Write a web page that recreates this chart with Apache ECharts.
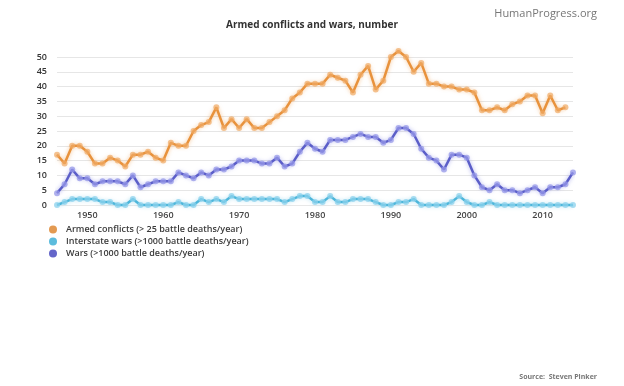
<!DOCTYPE html>
<html>
<head>
<meta charset="utf-8">
<script src="https://cdn.jsdelivr.net/npm/echarts@6/dist/echarts.min.js"></script>
<style>
html,body{margin:0;padding:0;background:#fff;}
#c{width:624px;height:386px;}
</style>
</head>
<body>
<div id="c"></div>
<script>
var years = ['1946','1947','1948','1949','1950','1951','1952','1953','1954','1955','1956','1957','1958','1959',
  '1960','1961','1962','1963','1964','1965','1966','1967','1968','1969',
  '1970','1971','1972','1973','1974','1975','1976','1977','1978','1979',
  '1980','1981','1982','1983','1984','1985','1986','1987','1988','1989',
  '1990','1991','1992','1993','1994','1995','1996','1997','1998','1999',
  '2000','2001','2002','2003','2004','2005','2006','2007','2008','2009',
  '2010','2011','2012','2013','2014'];

var armedConflicts = [17,14,20,20,18,14,14,16,15,13,17,17,18,16,
  15,21,20,20,25,27,28,33,26,29,
  26,29,26,26,28,30,32,36,38,41,
  41,41,44,43,42,38,44,47,39,42,
  50,52,50,45,48,41,41,40,40,39,
  39,38,32,32,33,32,34,35,37,37,
  31,37,32,33,null];

var interstateWars = [0,1,2,2,2,2,1,1,0,0,2,0,0,0,
  0,0,1,0,0,2,1,2,1,3,
  2,2,2,2,2,2,1,2,3,3,
  1,1,3,1,1,2,2,2,1,0,
  0,1,1,2,0,0,0,0,1,3,
  1,0,0,1,0,0,0,0,0,0,
  0,0,0,0,0];

var wars = [4,7,12,9,9,7,8,8,8,7,10,6,7,8,
  8,8,11,10,9,11,10,12,12,13,
  15,15,15,14,14,16,13,14,18,21,
  19,18,22,22,22,23,24,23,23,21,
  22,26,26,24,19,16,15,12,17,17,
  16,10,6,5,7,5,5,4,5,6,
  4,6,6,7,11];

var yTicks = [0,5,10,15,20,25,30,35,40,45,50];

var names = ['Armed conflicts (> 25 battle deaths/year)','Interstate wars (>1000 battle deaths/year)','Wars (>1000 battle deaths/year)'];
var lineColors = ['#E8923C','#4DB6DA','#5B5EC8'];
var dotColors = ['rgba(240,170,100,0.7)','rgba(140,210,236,0.75)','rgba(150,152,232,0.75)'];
var legendColors = ['#E39A52','#5CBCDD','#6466C9'];
var seriesData = [armedConflicts, interstateWars, wars];

var chart = echarts.init(document.getElementById('c'), null, {renderer:'canvas'});
var series = seriesData.map(function(d,i){
  return {
    name: names[i],
    type: 'line',
    data: d,
    clip: false,
    z: 3 - i,
    symbol: 'circle',
    symbolSize: 6,
    showSymbol: true,
    showAllSymbol: true,
    itemStyle: {color: dotColors[i]},
    lineStyle: {color: lineColors[i], width: 2.5, shadowBlur: 4, shadowColor: dotColors[i]},
    emphasis: {disabled: true},
    animation: false
  };
});

chart.setOption({
  animation: false,
  backgroundColor: '#ffffff',
  title: [{
    text: 'Armed conflicts and wars, number',
    left: 'center',
    top: 15,
    textStyle: {fontFamily: 'Open Sans', fontSize: 10, fontWeight: 'bold', color: '#333'}
  },{
    text: 'HumanProgress.org',
    right: 22,
    top: 3,
    textStyle: {fontFamily: 'Open Sans', fontSize: 11, fontWeight: 'normal', color: '#777'}
  },{
    text: 'Source:  Steven Pinker',
    right: 22,
    top: 368,
    textStyle: {fontFamily: 'Open Sans', fontSize: 7, fontWeight: 'bold', color: '#777'}
  }],
  grid: {left: 57, right: 51, top: 57, bottom: 181, containLabel: false},
  legend: {
    orient: 'vertical',
    left: 44,
    top: 220,
    itemGap: 3,
    itemWidth: 8,
    itemHeight: 8,
    icon: 'circle',
    data: names.map(function(n,i){return {name:n, itemStyle:{color:legendColors[i]}};}),
    textStyle: {fontFamily: 'Open Sans', fontSize: 9, fontWeight: 600, color: '#3a3a3a', padding:[0,0,0,4]}
  },
  xAxis: {
    type: 'category',
    data: years,
    boundaryGap: false,
    axisLine: {show: true, lineStyle: {color: '#e8e8e8'}},
    axisTick: {show: false},
    axisLabel: {
      interval: function(idx, val){ return parseInt(val,10) % 10 === 0; },
      fontFamily: 'Open Sans', fontSize: 9, fontWeight: 600, color: '#444', margin: 6
    },
    splitLine: {show: false}
  },
  yAxis: {
    type: 'value',
    min: yTicks[0],
    max: yTicks[yTicks.length-1],
    interval: yTicks[1]-yTicks[0],
    axisLine: {show: false},
    axisTick: {show: false},
    axisLabel: {fontFamily: 'Open Sans', fontSize: 9, fontWeight: 600, color: '#333', margin: 10},
    splitLine: {lineStyle: {color: '#e6e6e6', width: 1}}
  },
  series: series
});
</script>
</body>
</html>
